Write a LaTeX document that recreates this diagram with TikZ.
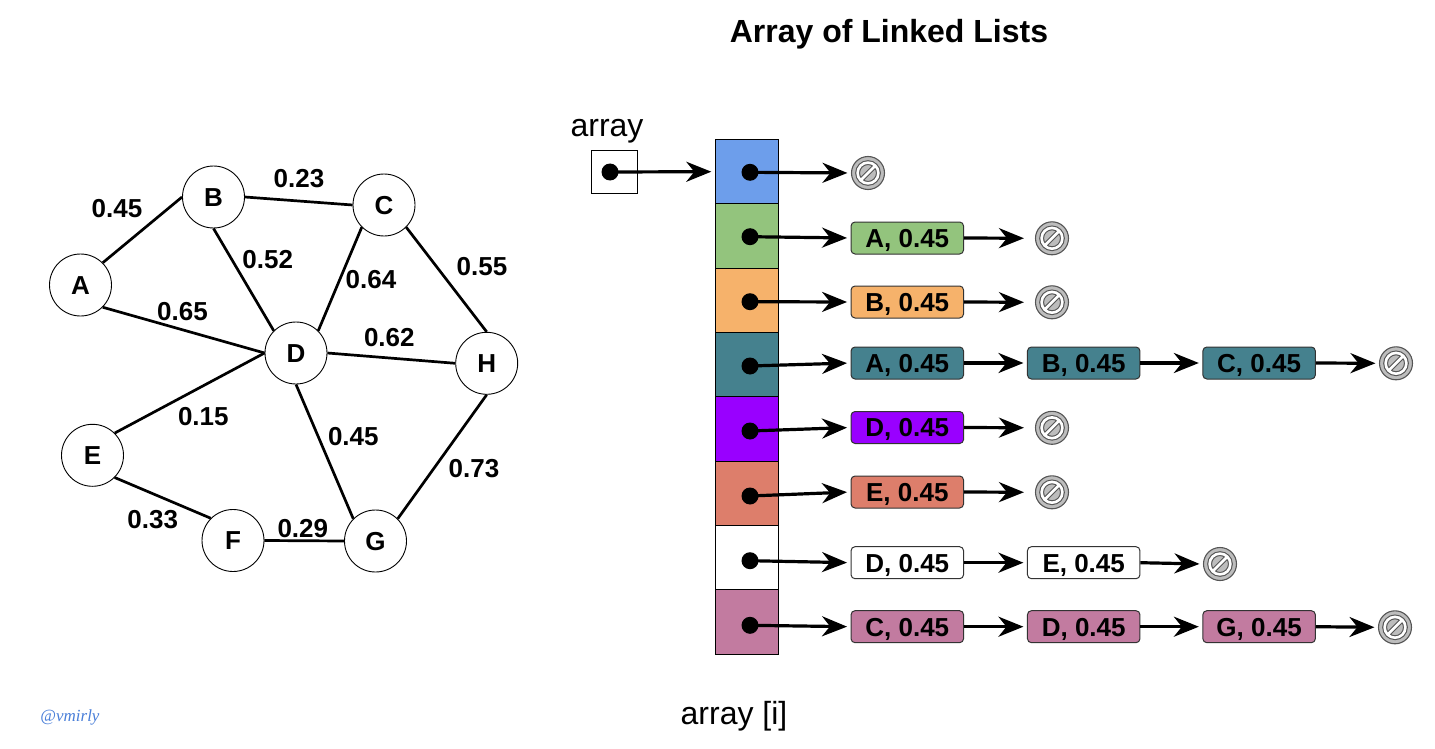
\documentclass[tikz,border=0pt]{standalone}
\usepackage{fontspec}
\setmainfont{Liberation Sans}
\newfontfamily\signfont{Liberation Serif}
\usetikzlibrary{arrows.meta}

\definecolor{rowblue}{HTML}{6D9EEB}
\definecolor{rowgreen}{HTML}{93C47D}
\definecolor{roworange}{HTML}{F6B26B}
\definecolor{rowteal}{HTML}{45818E}
\definecolor{rowpurple}{HTML}{9900FF}
\definecolor{rowsalmon}{HTML}{DD7E6B}
\definecolor{rowwhite}{HTML}{FFFFFF}
\definecolor{rowmauve}{HTML}{C27BA0}
\definecolor{nullgray}{HTML}{BDBDBD}
\definecolor{nullline}{HTML}{555555}
\definecolor{signblue}{HTML}{4A7FD9}

\tikzset{
  vertex/.style={circle, draw=black, line width=0.9pt, fill=white,
    minimum size=62pt, inner sep=0pt, text height=18.6pt, text depth=0pt,
    font=\fontsize{26}{30}\selectfont\bfseries},
  edge/.style={line width=2.7pt},
  weight/.style={inner sep=0pt, text height=18.6pt, text depth=0pt,
    font=\fontsize{26}{30}\selectfont\bfseries},
  cell/.style={draw=black, line width=1pt, minimum width=63pt,
    minimum height=64.35pt, inner sep=0pt},
  ptrdot/.style={circle, fill=black, minimum size=17pt, inner sep=0pt},
  item/.style={draw=black!80, line width=1pt, rounded corners=4pt,
    minimum width=112.5pt, minimum height=32pt, inner sep=0pt,
    text height=18.6pt, text depth=0pt,
    font=\fontsize{26}{30}\selectfont\bfseries},
  link/.style={line width=3.2pt, shorten >=3.5pt,
    -{Stealth[length=25pt, width=20pt, inset=8pt]}},
  farlink/.style={link, shorten >=11pt},
  nullref/.style={circle, draw=nullline, line width=1.1pt, fill=nullgray,
    minimum size=33pt, inner sep=0pt,
    path picture={
      \begin{scope}[shift={(path picture bounding box.center)}]
        \draw[nullline, line width=4.8pt] (0pt,0pt) circle[radius=10.4pt]
          (-7.4pt,-7.4pt) -- (7.4pt,7.4pt);
        \draw[white, line width=2.6pt] (0pt,0pt) circle[radius=10.4pt]
          (-7.4pt,-7.4pt) -- (7.4pt,7.4pt);
      \end{scope}}},
}

\begin{document}
\begin{tikzpicture}[x=1pt, y=-1pt]
  \fill[white] (0,0) rectangle (1435,749);
  \useasboundingbox (0,0) rectangle (1435,749);

  % ---------- weighted graph ----------
  \node[vertex] (A) at (80.5,285) {A};
  \node[vertex] (B) at (213.5,197) {B};
  \node[vertex] (C) at (384,205) {C};
  \node[vertex] (D) at (296,353) {D};
  \node[vertex] (H) at (486.7,363.3) {H};
  \node[vertex] (E) at (92.5,455.3) {E};
  \node[vertex] (F) at (233,540.5) {F};
  \node[vertex] (G) at (375.5,541) {G};

  \draw[edge] (A.north east) -- (B.west);
  \draw[edge] (B.east) -- (C.west);
  \draw[edge] (B.south) -- (D.north west);
  \draw[edge] (C.south west) -- (D.north east);
  \draw[edge] (C.south east) -- (H.north);
  \draw[edge] (A.south east) -- (D.west);
  \draw[edge] (D.east) -- (H.west);
  \draw[edge] (E.north east) -- (D.west);
  \draw[edge] (D.south) -- (G.north west);
  \draw[edge] (E.south east) -- (F.north west);
  \draw[edge] (F.east) -- (G.west);
  \draw[edge] (G.north east) -- (H.south);

  \node[weight] (wAB) at (117,208) {0.45};
  \node[weight] (wBC) at (299,178) {0.23};
  \node[weight] (wBD) at (267.7,258.8) {0.52};
  \node[weight] (wCD) at (371,279) {0.64};
  \node[weight] (wCH) at (482,266) {0.55};
  \node[weight] (wAD) at (182.5,310.8) {0.65};
  \node[weight] (wDH) at (389.3,337.5) {0.62};
  \node[weight] (wDE) at (203.3,415.8) {0.15};
  \node[weight] (wDG) at (353.3,436.5) {0.45};
  \node[weight] (wGH) at (474,468) {0.73};
  \node[weight] (wEF) at (152.7,519.2) {0.33};
  \node[weight] (wFG) at (302.8,527.8) {0.29};

  % ---------- array of linked lists ----------
  \node[anchor=base, font=\fontsize{32}{36}\selectfont\bfseries] (title)
    at (889,43) {Array of Linked Lists};
  \node[anchor=base, font=\fontsize{32}{36}\selectfont] (arrlabel)
    at (607,136.7) {array};
  \node[anchor=base, font=\fontsize{32}{36}\selectfont] (idxlabel)
    at (734,724) {array [i]};

  \node[draw=black, line width=1pt, minimum width=46pt, minimum height=43.5pt,
    inner sep=0pt] (head) at (614,171.8) {};
  \node[ptrdot] (hp) at (610,172) {};

  \foreach \i/\col in {1/rowblue, 2/rowgreen, 3/roworange, 4/rowteal,
                       5/rowpurple, 6/rowsalmon, 7/rowwhite, 8/rowmauve}
    \node[cell, fill=\col] (cell\i) at (746.8,{139.5+64.35*(\i-0.5)}) {};

  \draw[link] (hp.center) -- (cell1.west);

  \node[ptrdot] (p1) at (750,172.3) {};
  \node[ptrdot] (p2) at (750,236.7) {};
  \node[ptrdot] (p3) at (750,301.7) {};
  \node[ptrdot] (p4) at (750,366) {};
  \node[ptrdot] (p5) at (750,431) {};
  \node[ptrdot] (p6) at (750,496) {};
  \node[ptrdot] (p7) at (750,560.7) {};
  \node[ptrdot] (p8) at (750,625.3) {};

  % row 1
  \node[nullref] (n1) at (868,173) {};
  \draw[link] (p1.center) -- (n1.west);

  % row 2
  \node[item, fill=rowgreen] (r2a) at (907.3,238) {A, 0.45};
  \node[nullref] (n2) at (1052,238.3) {};
  \draw[link] (p2.center) -- (r2a.west);
  \draw[farlink] (r2a.east) -- (n2.west);

  % row 3
  \node[item, fill=roworange] (r3a) at (907.3,302) {B, 0.45};
  \node[nullref] (n3) at (1052,302.3) {};
  \draw[link] (p3.center) -- (r3a.west);
  \draw[farlink] (r3a.east) -- (n3.west);

  % row 4
  \node[item, fill=rowteal] (r4a) at (907.3,363) {A, 0.45};
  \node[item, fill=rowteal] (r4b) at (1083.7,363) {B, 0.45};
  \node[item, fill=rowteal] (r4c) at (1259.1,363) {C, 0.45};
  \node[nullref] (n4) at (1396,363.3) {};
  \draw[link] (p4.center) -- (r4a.west);
  \draw[link] (r4a.east) -- (r4b.west);
  \draw[link] (r4b.east) -- (r4c.west);
  \draw[link] (r4c.east) -- (n4.west);

  % row 5
  \node[item, fill=rowpurple] (r5a) at (907.3,427.5) {D, 0.45};
  \node[nullref] (n5) at (1052,427.8) {};
  \draw[link] (p5.center) -- (r5a.west);
  \draw[farlink] (r5a.east) -- (n5.west);

  % row 6
  \node[item, fill=rowsalmon] (r6a) at (907.3,492) {E, 0.45};
  \node[nullref] (n6) at (1052,492.3) {};
  \draw[link] (p6.center) -- (r6a.west);
  \draw[farlink] (r6a.east) -- (n6.west);

  % row 7
  \node[item, fill=rowwhite] (r7a) at (907.3,562.7) {D, 0.45};
  \node[item, fill=rowwhite] (r7b) at (1083.7,562.7) {E, 0.45};
  \node[nullref] (n7) at (1220,564) {};
  \draw[link] (p7.center) -- (r7a.west);
  \draw[link] (r7a.east) -- (r7b.west);
  \draw[link] (r7b.east) -- (n7.west);

  % row 8
  \node[item, fill=rowmauve] (r8a) at (907.3,626.7) {C, 0.45};
  \node[item, fill=rowmauve] (r8b) at (1083.7,626.7) {D, 0.45};
  \node[item, fill=rowmauve] (r8c) at (1259.1,626.7) {G, 0.45};
  \node[nullref] (n8) at (1395,627.3) {};
  \draw[link] (p8.center) -- (r8a.west);
  \draw[link] (r8a.east) -- (r8b.west);
  \draw[link] (r8b.east) -- (r8c.west);
  \draw[link] (r8c.east) -- (n8.west);

  % signature
  \node[anchor=base, text=signblue, font=\signfont\itshape\fontsize{17}{20}\selectfont]
    (sign) at (70,721) {@vmirly};
\end{tikzpicture}
\end{document}
